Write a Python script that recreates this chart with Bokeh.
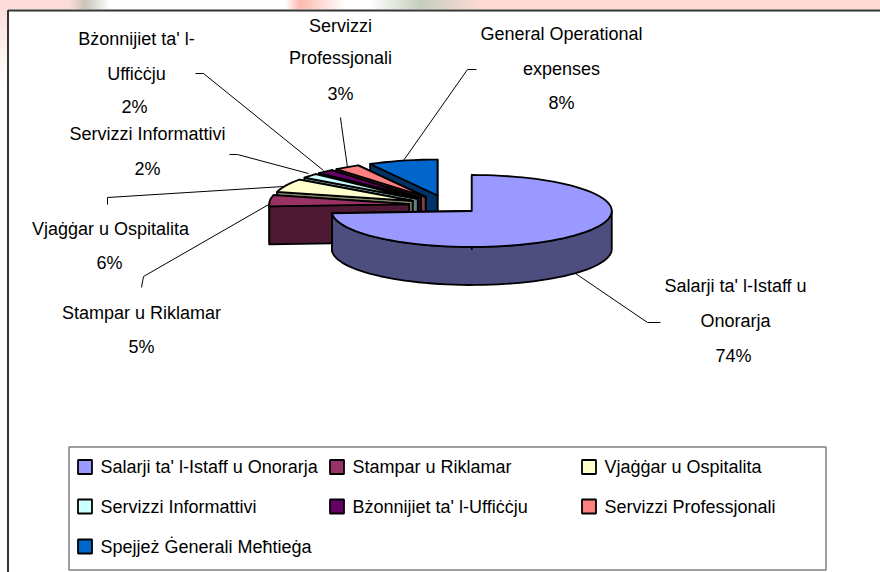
import math
from bokeh.embed import file_html
from bokeh.models import ColumnDataSource, Range1d
from bokeh.plotting import figure
from bokeh.resources import INLINE
from bokeh.core.properties import value

# ---- data ----
categories = ["Salarji ta' l-Istaff u Onorarja", "Stampar u Riklamar", "Vjaġġar u Ospitalita",
              "Servizzi Informattivi", "Bżonnijiet ta' l-Uffiċċju", "Servizzi Professjonali",
              "Spejjeż Ġenerali Meħtieġa"]
values = [74, 5, 6, 2, 2, 3, 8]
label_lines = [["Salarji ta' l-Istaff u", "Onorarja"], ["Stampar u Riklamar"], ["Vjaġġar u Ospitalita"],
               ["Servizzi Informattivi"], ["Bżonnijiet ta' l-", "Uffiċċju"], ["Servizzi", "Professjonali"],
               ["General Operational", "expenses"]]

# ---- style / layout ----
top_colors = ["#9999FF", "#993366", "#FFFFCC", "#CCFFFF", "#660066", "#FF8080", "#0066CC"]
side_colors = ["#4D4D80", "#4D1933", "#808066", "#668080", "#330033", "#804040", "#003366"]
FONT = value("Liberation Sans")
TEXT_SIZE = "18px"
CX, CY, RX, RY, DEPTH = 446.5, 204.5, 140, 36, 38
EXPLODE = [34, 38, 38, 38, 38, 38, 38]
label_pos = [[(735, 285), (735, 320), (733, 355)], [(141, 312), (141, 346)], [(110, 228), (109, 262)],
             [(147, 133), (147, 168)], [(136, 38), (136, 73), (134, 106)],
             [(340, 25), (340, 57), (340, 93)], [(561, 33), (561, 68), (561, 102)]]
leaders = [[(575, 273), (647, 322), (660, 322)], [(141, 287), (143, 276), (270, 203)],
           [(107, 204), (107, 197), (283, 186)], [(229, 154), (237, 154), (308, 173)],
           [(195, 73), (203, 73), (323, 170)], [(340, 117), (341, 125), (347, 167)],
           [(403, 160), (467, 69), (476, 69)]]
legend_cols = [(77, 100), (329, 352), (581, 604)]
legend_rows = [466.5, 506, 546]

p = figure(width=880, height=572, x_range=Range1d(0, 880), y_range=Range1d(572, 0),
           toolbar_location=None, output_backend="svg", min_border=0)
p.axis.visible = False
p.grid.visible = False
p.outline_line_color = None
p.background_fill_color = None
p.border_fill_color = None


def pt(c, th, dz=0):
    return c[0] + RX * math.sin(th), c[1] - RY * math.cos(th) + dz


def arc(c, a, b, dz=0):
    n = max(2, int(abs(b - a) / math.radians(3)))
    return [pt(c, a + (b - a) * i / n, dz) for i in range(n + 1)]


total = sum(values)
starts, a = [], 0.0
for v in values:
    starts.append(a)
    a += v / total * 2 * math.pi

xs, ys, fills = [], [], []


def add(poly, col):
    xs.append([q[0] for q in poly])
    ys.append([q[1] for q in poly])
    fills.append(col)


def wall(c, th):
    e = pt(c, th)
    return [c, e, (e[0], e[1] + DEPTH), (c[0], c[1] + DEPTH)]


for i in range(len(values) - 1, -1, -1):
    a0 = starts[i]
    a1 = a0 + values[i] / total * 2 * math.pi
    mid = (a0 + a1) / 2
    c = (CX + EXPLODE[i] * math.sin(mid), CY - EXPLODE[i] * RY / RX * math.cos(mid))
    add(wall(c, a1), side_colors[i])
    lo, hi = max(a0, math.pi / 2), min(a1, 3 * math.pi / 2)
    if hi > lo:
        add(arc(c, lo, hi) + arc(c, hi, lo, DEPTH), side_colors[i])
    add(wall(c, a0), side_colors[i])
    add([c] + arc(c, a0, a1), top_colors[i])

p.patches(xs, ys, fill_color=fills, line_color="#000000", line_width=1.8, line_join="round")

# chart frame (top and left only: the rest runs off the page)
p.line([7.5, 7.5, 880], [572, 10, 10], line_color="#333333", line_width=2)

# leader lines
for seg in leaders:
    p.line([q[0] for q in seg], [q[1] for q in seg], line_color="#000000", line_width=1)

# data labels
tx, ty, tt = [], [], []
for i, lines in enumerate(label_lines):
    for s, (x, y) in zip(lines + [f"{values[i]}%"], label_pos[i]):
        tx.append(x); ty.append(y); tt.append(s)
p.text(tx, ty, text=tt, text_font=FONT, text_font_size=TEXT_SIZE, text_align="center",
       text_baseline="middle", text_color="#000000")

# legend
p.quad(left=[68.5], right=[825.5], top=[446.5], bottom=[569.5], fill_color=None,
       line_color="#808080", line_width=1.5)
lx, ly, lc, ltx, lty, lt = [], [], [], [], [], []
for i, name in enumerate(categories):
    col, row = i % 3, i // 3
    lx.append(legend_cols[col][0] + 7.5); ly.append(legend_rows[row]); lc.append(top_colors[i])
    ltx.append(legend_cols[col][1]); lty.append(legend_rows[row]); lt.append(name)
p.rect(lx, ly, width=14, height=14, fill_color=lc, line_color="#000000", line_width=1.8)
p.text(ltx, lty, text=lt, text_font=FONT, text_font_size=TEXT_SIZE, text_align="left",
       text_baseline="middle", text_color="#000000")

html = file_html(p, INLINE)
style = ("<style>body{background-color:#fff;background-repeat:no-repeat;"
         "background-image:linear-gradient(90deg,#fbdcd6 0,#fbdcd6 70px,#c9c4b8 85px,#ffffff 110px,"
         "#ffffff 285px,#fbb9ae 300px,#ffffff 345px,#ffffff 370px,#c5cdbd 420px,#fdd9d2 480px,#fdd9d2 100%),"
         "linear-gradient(180deg,#fbdcd6 0,#ffffff 90px);"
         "background-size:100% 9px,7px 90px;background-position:0 0,0 0;overflow:hidden;}</style>")
html = html.replace("</head>", style + "</head>", 1)
open("out.html", "w").write(html)
